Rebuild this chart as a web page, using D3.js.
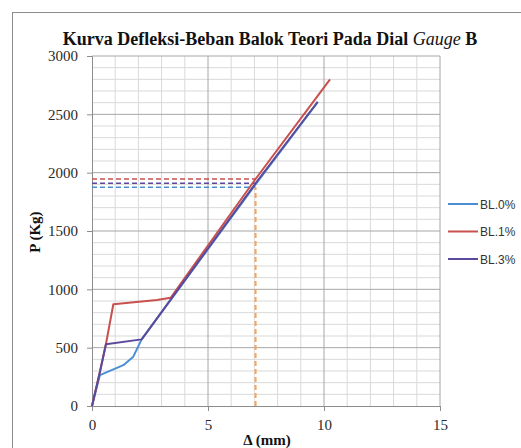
<!DOCTYPE html>
<html>
<head>
<meta charset="utf-8">
<script src="https://cdn.jsdelivr.net/npm/d3@7"></script>
<style>
  body { margin: 0; background: #fff; }
  svg { display: block; }
</style>
</head>
<body>
<svg id="chart" width="521" height="448"></svg>
<script>
// series (deflection mm, load kg)
const bl0x = [0, 0.34, 1.35, 1.78, 2.14, 7.05, 9.73];
const bl0y = [0, 265, 350, 423, 571, 1900, 2605];
const bl1x = [0, 0.35, 0.6, 0.92, 2.8, 3.39, 7.05, 10.26];
const bl1y = [0, 300, 530, 872, 909, 928, 1946, 2800];
const bl3x = [0, 0.35, 0.6, 2.14, 7.05, 9.73];
const bl3y = [0, 300, 529, 571, 1909, 2608];
const seriesNames = ["BL.0%", "BL.1%", "BL.3%"];
const seriesColors = ["#4a8fd6", "#c8504d", "#5b4a9b"];
const yieldLoads = [1874, 1946, 1909]; // dashed guide levels
const yieldDefl = 7.05;
const xTicks = [0, 5, 10, 15];
const yTicks = [0, 500, 1000, 1500, 2000, 2500, 3000];

const svg = d3.select("#chart");
const margin = { left: 92, top: 56, right: 81, bottom: 42 };
const width = 521 - margin.left - margin.right;   // 348
const height = 448 - margin.top - margin.bottom;  // 350

// outer chart frame
svg.append("rect")
    .attr("x", 12.5).attr("y", 12.5)
    .attr("width", 540).attr("height", 460)
    .attr("fill", "#fff").attr("stroke", "#8c8c8c");

const g = svg.append("g").attr("transform", `translate(${margin.left},${margin.top})`);

const x = d3.scaleLinear().domain([0, 15]).range([0, width]);
const y = d3.scaleLinear().domain([0, 3000]).range([height, 0]);

// minor grid
g.selectAll(".vminor").data(d3.range(1, 15).filter(d => d % 5 !== 0))
    .enter().append("line")
    .attr("x1", d => x(d)).attr("x2", d => x(d))
    .attr("y1", 0).attr("y2", height)
    .attr("stroke", "#d9d9d9").attr("stroke-width", 1);
g.selectAll(".hminor").data(d3.range(100, 3000, 100).filter(d => d % 500 !== 0))
    .enter().append("line")
    .attr("x1", 0).attr("x2", width)
    .attr("y1", d => y(d)).attr("y2", d => y(d))
    .attr("stroke", "#d9d9d9").attr("stroke-width", 1);
// major grid
g.selectAll(".vmajor").data(xTicks.slice(1))
    .enter().append("line")
    .attr("x1", d => x(d)).attr("x2", d => x(d))
    .attr("y1", 0).attr("y2", height)
    .attr("stroke", "#a6a6a6").attr("stroke-width", 1);
g.selectAll(".hmajor").data(yTicks.slice(1))
    .enter().append("line")
    .attr("x1", 0).attr("x2", width)
    .attr("y1", d => y(d)).attr("y2", d => y(d))
    .attr("stroke", "#a6a6a6").attr("stroke-width", 1);

// axes
const xAxis = g.append("g").attr("transform", `translate(0,${height})`)
    .call(d3.axisBottom(x).tickValues(xTicks).tickFormat(d3.format("d")).tickSize(5).tickPadding(8));
const yAxis = g.append("g")
    .call(d3.axisLeft(y).tickValues(yTicks).tickFormat(d3.format("d")).tickSize(5).tickPadding(9));
[xAxis, yAxis].forEach(a => {
    a.select(".domain").attr("stroke", "#8c8c8c");
    a.selectAll(".tick line").attr("stroke", "#8c8c8c");
    a.selectAll("text").attr("font-family", "Liberation Serif, serif")
        .attr("font-size", 15).attr("fill", "#2a2a2a");
});

// dashed guides
const seriesX = [bl0x, bl1x, bl3x];
const seriesY = [bl0y, bl1y, bl3y];
yieldLoads.forEach((v, i) => {
    g.append("line")
        .attr("x1", x(0)).attr("x2", x(yieldDefl))
        .attr("y1", y(v)).attr("y2", y(v))
        .attr("stroke", seriesColors[i]).attr("stroke-width", 1.5)
        .attr("stroke-dasharray", "5,3");
});
g.append("line")
    .attr("x1", x(yieldDefl)).attr("x2", x(yieldDefl))
    .attr("y1", y(0)).attr("y2", y(d3.min(yieldLoads)))
    .attr("stroke", "#f7a35c").attr("stroke-width", 2)
    .attr("stroke-dasharray", "5,3");

// curves
const line = d3.line().x(d => x(d[0])).y(d => y(d[1]));
[0, 1, 2].forEach(i => {
    const pts = seriesX[i].map((v, j) => [v, seriesY[i][j]]);
    g.append("path").datum(pts)
        .attr("d", line)
        .attr("fill", "none")
        .attr("stroke", seriesColors[i])
        .attr("stroke-width", 2)
        .attr("stroke-linejoin", "round");
});

// title
svg.append("text")
    .attr("x", 270).attr("y", 45)
    .attr("text-anchor", "middle")
    .attr("font-family", "Liberation Serif, serif")
    .attr("font-weight", "bold").attr("font-size", 18)
    .attr("fill", "#111")
    .html('Kurva Defleksi-Beban Balok Teori Pada Dial <tspan font-style="italic" font-weight="normal">Gauge</tspan> B');

// axis titles
svg.append("text")
    .attr("transform", "translate(40,232) rotate(-90)")
    .attr("text-anchor", "middle")
    .attr("font-family", "Liberation Serif, serif")
    .attr("font-weight", "bold").attr("font-size", 15)
    .attr("fill", "#111")
    .text("P (Kg)");
svg.append("text")
    .attr("x", 267).attr("y", 445)
    .attr("text-anchor", "middle")
    .attr("font-family", "Liberation Serif, serif")
    .attr("font-weight", "bold").attr("font-size", 15)
    .attr("fill", "#111")
    .text("Δ (mm)");

// legend
const legend = svg.append("g").attr("transform", "translate(448,204)");
seriesNames.forEach((name, i) => {
    const ly = i * 27.5;
    legend.append("line")
        .attr("x1", 0).attr("x2", 30)
        .attr("y1", ly).attr("y2", ly)
        .attr("stroke", seriesColors[i]).attr("stroke-width", 2);
    legend.append("text")
        .attr("x", 32).attr("y", ly + 4.5)
        .attr("font-family", "Liberation Sans, sans-serif")
        .attr("font-size", 12).attr("fill", "#333")
        .text(name);
});
</script>
</body>
</html>
